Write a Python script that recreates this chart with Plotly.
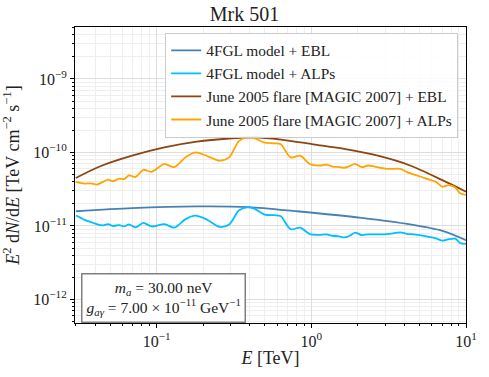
import numpy as np
import plotly.graph_objects as go

# Energía (TeV) para las curvas con EBL
e_flare_ebl = [0.030, 0.0428, 0.0693, 0.112, 0.1816, 0.294, 0.431, 0.635, 1.03, 1.66, 2.69, 4.35, 7.04, 10.0]
flare_ebl = [4.50e-11, 6.44e-11, 9.03e-11, 1.17e-10, 1.40e-10, 1.55e-10, 1.61e-10, 1.50e-10,
             1.29e-10, 1.11e-10, 9.03e-11, 6.65e-11, 4.20e-11, 2.93e-11]

e_fgl_ebl = [0.030, 0.0693, 0.1816, 0.393, 0.807, 2.11, 4.35, 7.04, 10.0]
fgl_ebl = [1.585e-11, 1.75e-11, 1.85e-11, 1.81e-11, 1.585e-11, 1.29e-11, 1.05e-11, 8.58e-12, 6.41e-12]

# Energía (TeV) para las curvas con ALPs
e_alp = [0.030, 0.0320, 0.0344, 0.0375, 0.0409, 0.0450, 0.0484, 0.0520, 0.0572, 0.0615,
         0.0661, 0.0728, 0.0820, 0.0926, 0.1122, 0.1297, 0.1536, 0.1774, 0.2097, 0.2543,
         0.2939, 0.3396, 0.3828, 0.4236, 0.4986, 0.5761, 0.6346, 0.7331, 0.8470, 0.9786,
         1.130, 1.245, 1.370, 1.509, 1.622, 1.743, 1.920, 2.113, 2.327, 2.563,
         3.105, 3.765, 4.146, 4.567, 5.534, 6.392, 7.041, 7.745, 8.531, 9.170, 10.0]
flare_alp = [3.98e-11, 3.86e-11, 3.78e-11, 3.80e-11, 3.66e-11, 3.98e-11, 4.27e-11, 4.06e-11, 4.41e-11, 4.33e-11,
             4.89e-11, 4.64e-11, 5.81e-11, 5.46e-11, 6.98e-11, 6.31e-11, 8.58e-11, 1.00e-10, 9.03e-11, 7.75e-11,
             8.58e-11, 1.43e-10, 1.60e-10, 1.58e-10, 1.36e-10, 1.33e-10, 1.29e-10, 8.58e-11, 9.03e-11, 6.98e-11,
             6.65e-11, 6.85e-11, 6.44e-11, 6.31e-11, 6.18e-11, 6.44e-11, 6.98e-11, 6.31e-11, 6.65e-11, 6.44e-11,
             5.98e-11, 5.98e-11, 5.41e-11, 5.05e-11, 4.41e-11, 3.98e-11, 3.41e-11, 3.60e-11, 3.34e-11, 2.78e-11, 2.65e-11]
fgl_alp = [1.39e-11, 1.30e-11, 1.20e-11, 1.13e-11, 1.06e-11, 1.02e-11, 1.06e-11, 1.00e-11, 1.03e-11, 9.85e-12,
           1.05e-11, 9.55e-12, 1.10e-11, 9.85e-12, 1.06e-11, 9.49e-12, 1.24e-11, 1.38e-11, 1.23e-11, 9.70e-12,
           1.05e-11, 1.62e-11, 1.79e-11, 1.74e-11, 1.43e-11, 1.40e-11, 1.36e-11, 9.03e-12, 9.49e-12, 7.75e-12,
           7.59e-12, 7.70e-12, 7.36e-12, 7.24e-12, 6.98e-12, 7.24e-12, 8.14e-12, 7.52e-12, 7.70e-12, 7.70e-12,
           7.75e-12, 8.19e-12, 7.82e-12, 7.70e-12, 7.24e-12, 6.78e-12, 6.31e-12, 6.61e-12, 6.71e-12, 5.85e-12, 5.70e-12]

x_tickvals = [0.1, 1, 10]
x_ticktext = ["10<sup>−1</sup>", "10<sup>0</sup>", "10<sup>1</sup>"]
y_tickvals = [1e-12, 1e-11, 1e-10, 1e-9]
y_ticktext = ["10<sup>−12</sup>", "10<sup>−11</sup>", "10<sup>−10</sup>", "10<sup>−9</sup>"]

FONT = "Liberation Serif"


# Espectro de Mrk 501 con EBL y ALPs
def plot_mrk501():
    fig = go.Figure()

    series = [
        (e_fgl_ebl, fgl_ebl, "4FGL model + EBL", "#4682b4"),
        (e_alp, fgl_alp, "4FGL model + ALPs", "#00bfff"),
        (e_flare_ebl, flare_ebl, "June 2005 flare [MAGIC 2007] + EBL", "#8b4513"),
        (e_alp, flare_alp, "June 2005 flare [MAGIC 2007] + ALPs", "#ffa500"),
    ]
    for x, y, name, color in series:
        fig.add_trace(go.Scatter(
            x=x, y=y, name=name, mode="lines",
            line=dict(color=color, width=1.8, shape="spline", smoothing=0.8)
        ))

    axis_common = dict(
        type="log",
        showline=True, linecolor="black", linewidth=1, mirror=True,
        ticks="outside", ticklen=4, tickcolor="black",
        showgrid=True, gridcolor="#dddddd", gridwidth=1,
        zeroline=False,
        ticklabeloverflow="allow",
        tickfont=dict(size=16, family=FONT, color="#222222"),
        minor=dict(dtick="D1", ticks="outside", ticklen=2, tickcolor="black",
                   showgrid=True, gridcolor="#eeeeee", gridwidth=1),
    )

    fig.update_layout(
        width=489, height=377,
        template="plotly_white",
        font=dict(family=FONT, color="#222222"),
        margin=dict(l=68, r=18, t=27, b=48),
        title=dict(text="Mrk 501", x=0.5, xanchor="center", yref="container", y=0.962, yanchor="middle",
                   font=dict(size=20, family=FONT, color="#222222")),
        xaxis=dict(axis_common, range=[np.log10(0.0296), 1],
                   tickvals=x_tickvals, ticktext=x_ticktext,
                   title=dict(text="<i>E</i> [TeV]", font=dict(size=18, family=FONT), standoff=2)),
        yaxis=dict(axis_common, range=[-12.32, -8.293],
                   tickvals=y_tickvals, ticktext=y_ticktext,
                   title=dict(text="<i>E</i><sup>2</sup> d<i>N</i>/d<i>E</i> [TeV cm<sup>−2</sup> s<sup>−1</sup>]",
                              font=dict(size=18, family=FONT), standoff=9)),
        legend=dict(x=0.98, y=0.98, xanchor="right", yanchor="top",
                    bgcolor="rgba(255,255,255,0.85)", bordercolor="#cccccc", borderwidth=1,
                    font=dict(size=15.4, family=FONT, color="#222222"), tracegroupgap=0),
        showlegend=True,
    )

    fig.add_annotation(
        xref="paper", yref="paper", x=0.226, y=0.086, xanchor="center", yanchor="middle",
        text="<i>m<sub>a</sub></i> = 30.00 neV<br><i>g<sub>aγ</sub></i> = 7.00 × 10<sup>−11</sup> GeV<sup>−1</sup>",
        showarrow=False, align="center",
        font=dict(size=15.5, family=FONT, color="#222222"),
        bgcolor="white", bordercolor="#808080", borderwidth=1.5, borderpad=4,
    )
    return fig


fig = plot_mrk501()
# quitar el margen del body para que la figura ocupe toda la ventana
fig.write_html("out.html", config={"displayModeBar": False},
               post_script="document.body.style.margin='0px';")
